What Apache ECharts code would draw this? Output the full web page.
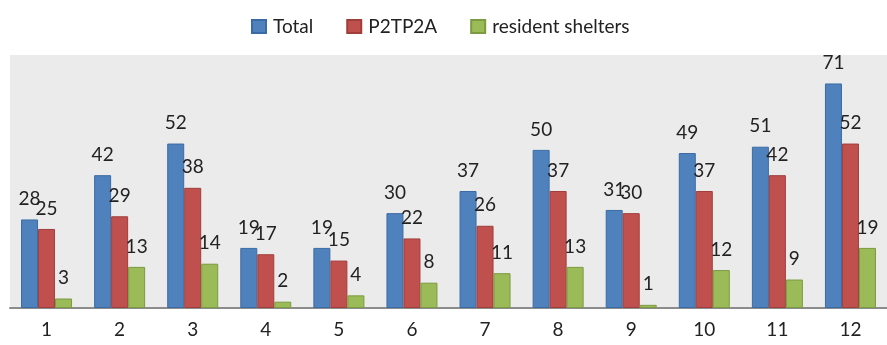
<!DOCTYPE html>
<html>
<head>
<meta charset="utf-8">
<script src="https://cdn.jsdelivr.net/npm/echarts@6/dist/echarts.min.js"></script>
<style>
  html, body { margin: 0; padding: 0; background: #ffffff; }
  #chart { width: 887px; height: 345px; }
</style>
</head>
<body>
<div id="chart"></div>
<script>
// Monthly counts: total, P2TP2A and resident shelters
const categories = ['1', '2', '3', '4', '5', '6', '7', '8', '9', '10', '11', '12'];
const totalValues = [28, 42, 52, 19, 19, 30, 37, 50, 31, 49, 51, 71];
const p2tp2aValues = [25, 29, 38, 17, 15, 22, 26, 37, 30, 37, 42, 52];
const shelterValues = [3, 13, 14, 2, 4, 8, 11, 13, 1, 12, 9, 19];

const FONT = 'Lato, "Open Sans", sans-serif';

function barSeries(name, data, fill, border) {
  return {
    name: name,
    type: 'bar',
    data: data,
    barWidth: 17,
    barGap: '0%',
    itemStyle: { color: fill, borderColor: border, borderWidth: 1 },
    label: {
      show: true,
      position: 'top',
      distance: 11,
      color: '#222',
      fontFamily: FONT,
      fontSize: 19
    }
  };
}

const chart = echarts.init(document.getElementById('chart'), null, { renderer: 'canvas' });
chart.setOption({
  animation: false,
  backgroundColor: '#ffffff',
  legend: {
    top: 12,
    left: 246,
    itemWidth: 14,
    itemHeight: 13,
    itemGap: 33,
    icon: 'rect',
    textStyle: { fontFamily: FONT, fontSize: 19, color: '#222', padding: [0, 0, 0, 2] },
    data: ['Total', 'P2TP2A', 'resident shelters']
  },
  grid: {
    show: true,
    left: 10,
    width: 887,
    top: 55,
    bottom: 37,
    backgroundColor: '#ebebeb',
    borderWidth: 0
  },
  xAxis: {
    type: 'category',
    data: categories,
    axisLine: { lineStyle: { color: '#8c8c8c', width: 2 } },
    axisTick: { show: false },
    axisLabel: { margin: 12, fontFamily: FONT, fontSize: 19, color: '#222' }
  },
  yAxis: {
    type: 'value',
    min: 0,
    max: 80,
    show: false,
    splitLine: { show: false }
  },
  series: [
    barSeries('Total', totalValues, '#4f81bd', '#3b6ba5'),
    barSeries('P2TP2A', p2tp2aValues, '#c0504d', '#a03e3b'),
    barSeries('resident shelters', shelterValues, '#9bbb59', '#7c9a3f')
  ]
});
</script>
</body>
</html>
